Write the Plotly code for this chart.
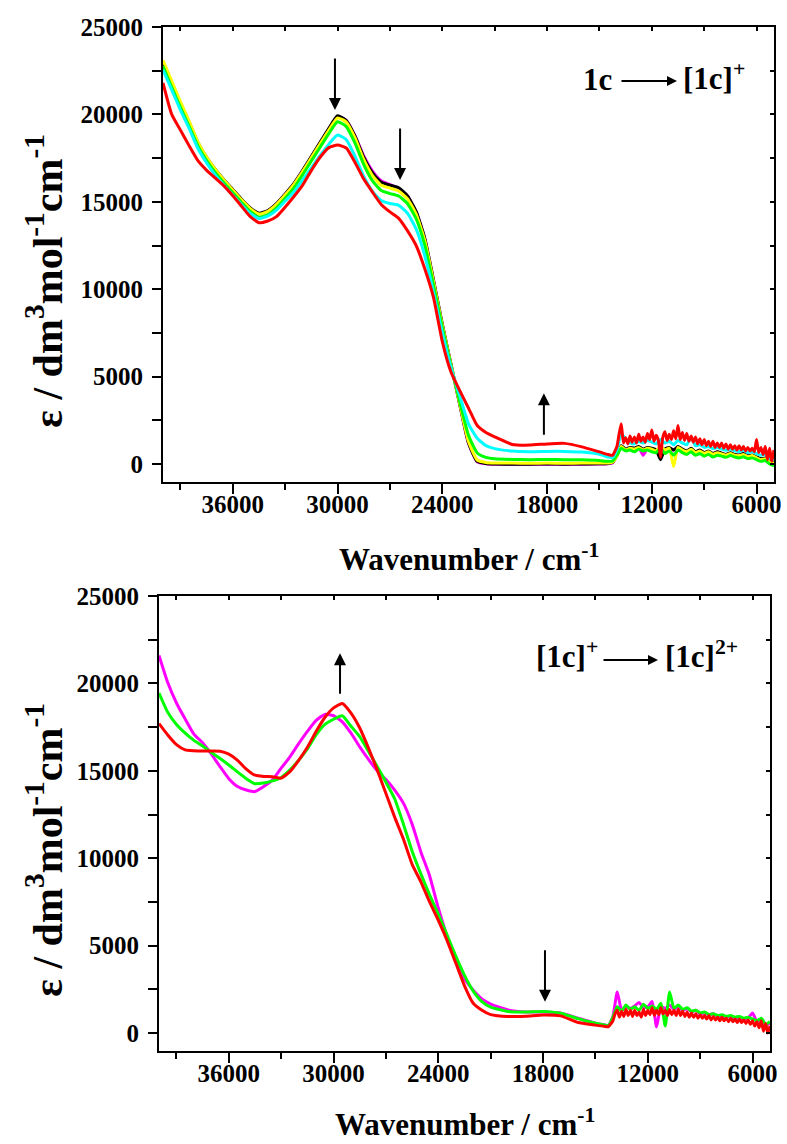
import plotly.graph_objects as go

# ---------------- data ----------------
# wavenumber grid, UV-vis part (cm-1)
WN_UV = [40000, 39500, 39000, 38500, 38000, 37500, 37000, 36500, 36000, 35500,
         35000, 34500, 34000, 33500, 33000, 32500, 32000, 31500, 31000, 30500,
         30000, 29500, 29000, 28500, 28000, 27500, 27000, 26500, 26000, 25500,
         25000, 24500, 24000, 23500, 23000, 22500, 22000, 21500, 21000, 20000,
         19000, 18000, 17000, 16000, 15000, 14500, 14250]
# wavenumber grid, NIR (noisy) part (cm-1)
WN_NIR = [14000, 13750, 13500, 13250, 13000, 12750, 12500, 12250, 12000, 11750,
          11500, 11250, 11000, 10750, 10500, 10250, 10000, 9750, 9500, 9250,
          9000, 8750, 8500, 8250, 8000, 7750, 7500, 7250, 7000, 6750,
          6500, 6250, 6000, 5750, 5500, 5250, 5000]
# finer NIR grid used for the red (front-most, visibly noisy) traces
WN_NIR_FINE = [14000, 13875, 13750, 13625, 13500, 13375, 13250, 13125, 13000, 12875,
               12750, 12625, 12500, 12375, 12250, 12125, 12000, 11875, 11750, 11625,
               11500, 11375, 11250, 11125, 11000, 10875, 10750, 10625, 10500, 10375,
               10250, 10125, 10000, 9875, 9750, 9625, 9500, 9375, 9250, 9125,
               9000, 8875, 8750, 8625, 8500, 8375, 8250, 8125, 8000, 7875,
               7750, 7625, 7500, 7375, 7250, 7125, 7000, 6875, 6750, 6625,
               6500, 6375, 6250, 6125, 6000, 5875, 5750, 5625, 5500, 5375,
               5250, 5125, 5000]

# ---- top panel: 1c -> [1c]+ ----
TOP_BLACK_UV = [23000, 21800, 20650, 19550, 18400, 17550, 16850, 16250, 15700, 15150,
                14650, 14350, 14500, 14900, 15450, 16050, 16800, 17600, 18400, 19200,
                19920, 19650, 18750, 17550, 16650, 16120, 15950, 15800, 15350, 14450,
                12900, 10500, 8000, 5700, 3400, 1200, 150, 30, 0, -10,
                -10, 0, -10, 0, 10, 30, 80]
TOP_BLACK_NIR = [500, 1050, 850, 950, 900, 1000, 850, 950, 900, 800,
                 250, 850, 950, 800, 1000, 850, 750, 900, 700, 800,
                 650, 750, 600, 700, 620, 550, 650, 540, 520, 600,
                 460, 520, 400, 300, 350, 150, 100]

TOP_MAG_UV = [22950, 21750, 20600, 19500, 18350, 17500, 16800, 16200, 15650, 15100,
              14600, 14320, 14480, 14880, 15430, 16030, 16780, 17580, 18380, 19180,
              19880, 19650, 18780, 17620, 16760, 16200, 15980, 15780, 15330, 14420,
              12880, 10480, 7980, 5680, 3380, 1180, 130, 20, -10, -20,
              -20, -10, -20, -10, 0, 20, 60]
TOP_MAG_NIR = [480, 1000, 800, 900, 820, 950, 500, 880, 850, 780,
               900, 820, 900, 780, 950, 800, 720, 860, 680, 780,
               620, 720, 580, 680, 600, 520, 620, 520, 500, 580,
               440, 500, 380, 280, 320, 120, 80]

TOP_YEL_UV = [23100, 21900, 20720, 19600, 18430, 17560, 16850, 16230, 15670, 15110,
              14610, 14300, 14450, 14850, 15400, 16000, 16740, 17530, 18320, 19100,
              19800, 19560, 18650, 17420, 16500, 15950, 15780, 15620, 15180, 14300,
              12780, 10420, 7950, 5680, 3420, 1280, 230, 90, 60, 50,
              40, 50, 40, 50, 50, 60, 100]
TOP_YEL_NIR = [450, 1000, 800, 900, 850, 950, 800, 900, 850, 750,
               1000, 800, 900, -150, 950, 800, 700, 850, 650, 750,
               600, 700, 550, 650, 580, 500, 600, 500, 480, 550,
               420, 480, 350, 250, 300, 100, 50]

TOP_GRN_UV = [22750, 21550, 20400, 19320, 18200, 17360, 16670, 16070, 15520, 14960,
              14450, 14120, 14250, 14650, 15200, 15800, 16550, 17340, 18120, 18900,
              19580, 19300, 18350, 17130, 16200, 15650, 15470, 15330, 14900, 14030,
              12500, 10200, 7800, 5600, 3550, 1650, 630, 380, 300, 260,
              250, 260, 250, 240, 200, 150, 170]
TOP_GRN_NIR = [500, 900, 750, 800, 700, 850, 750, 800, 700, 650,
               900, 600, 750, 500, 800, 650, 550, 700, 500, 600,
               450, 550, 400, 500, 450, 380, 480, 400, 350, 420,
               300, 350, 250, 150, 200, 0, -100]

TOP_CYN_UV = [22550, 21400, 20250, 19180, 18050, 17220, 16520, 15930, 15380, 14830,
              14330, 14050, 14180, 14520, 15050, 15560, 16250, 16950, 17650, 18300,
              18820, 18550, 17600, 16450, 15600, 15070, 14900, 14800, 14350, 13450,
              11900, 9800, 7500, 5500, 3900, 2300, 1470, 1050, 880, 740,
              700, 720, 720, 680, 550, 400, 360]
TOP_CYN_NIR = [800, 1700, 1450, 1200, 1150, 1300, 1200, 1350, 1250, 1150,
               1400, 1200, 1300, 1100, 1350, 1200, 1100, 1550, 1050, 1100,
               950, 1000, 880, 950, 850, 780, 850, 750, 720, 780,
               650, 700, 600, 500, 550, 350, 250]

TOP_RED_UV = [21800, 20000, 19100, 18200, 17350, 16800, 16350, 15900, 15350, 14750,
              14150, 13800, 13900, 14150, 14700, 15300, 15950, 16800, 17550, 18100,
              18250, 18080, 17250, 16300, 15550, 14850, 14420, 14050, 13350, 12500,
              11150, 9500, 7000, 5250, 4200, 3200, 2200, 1800, 1550, 1120,
              1080, 1150, 1180, 980, 690, 540, 500]
TOP_RED_NIR = [1000, 1700, 2300, 1200, 1500, 1150, 1600, 1250, 1550, 1200,
               1700, 1300, 1550, 1250, 1750, 1400, 1950, 1300, 1650, 1350,
               400, 1500, 1850, 1350, 1700, 1400, 1900, 1450, 2200, 1400,
               1800, 1350, 1750, 1300, 1600, 1250, 1550, 1150, 1450, 1100,
               1400, 1050, 1300, 1000, 1300, 950, 1200, 950, 1200, 900,
               1150, 850, 1100, 850, 1050, 800, 1050, 800, 1000, 750,
               950, 750, 900, 700, 1400, 650, 950, 550, 1000, 250,
               900, 150, 800]

# ---- bottom panel: [1c]+ -> [1c]2+ ----
BOT_MAG_UV = [21600, 20050, 18880, 17960, 17100, 16600, 15950, 15230, 14550, 14100,
              13900, 13810, 14100, 14480, 15150, 15800, 16550, 17250, 17880, 18230,
              18150, 17800, 17150, 16370, 15650, 15000, 14500, 13900, 13150, 11950,
              10360, 9000, 7150, 5550, 4300, 3100, 2450, 1950, 1650, 1320,
              1200, 1200, 1150, 850, 560, 470, 440]
BOT_MAG_NIR = [950, 2350, 1300, 1500, 1400, 1550, 1750, 1450, 1500, 1800,
               350, 1500, 1400, 1600, 1350, 1500, 1300, 1400, 1200, 1300,
               1100, 1150, 1050, 1100, 950, 1000, 900, 950, 850, 900,
               800, 850, 1150, 650, 800, 450, 550]

BOT_GRN_UV = [19450, 18350, 17650, 17150, 16740, 16420, 16050, 15700, 15330, 14930,
              14550, 14260, 14300, 14420, 14620, 15050, 15600, 16250, 17050, 17650,
              17950, 18150, 17550, 16950, 16100, 15250, 14350, 13400, 11950, 10400,
              9100, 7900, 6800, 5600, 4400, 3300, 2400, 1800, 1480, 1230,
              1200, 1230, 1130, 820, 560, 460, 420]
BOT_GRN_NIR = [900, 1500, 1250, 1600, 1350, 1500, 1300, 1650, 1400, 1550,
               1350, 1700, 400, 2350, 1400, 1600, 1350, 1450, 1250, 1300,
               1150, 1200, 1050, 1100, 1000, 1050, 950, 1000, 900, 950,
               850, 900, 800, 700, 850, 500, 650]

BOT_RED_UV = [17700, 17050, 16500, 16200, 16150, 16130, 16130, 16120, 15950, 15600,
              15100, 14750, 14680, 14660, 14580, 14950, 15600, 16350, 17250, 18050,
              18600, 18850, 18300, 17450, 16300, 15050, 13700, 12350, 11100, 9650,
              8650, 7500, 6450, 5300, 4000, 2700, 1700, 1300, 1050, 940,
              960, 1030, 980, 600, 450, 380, 360]
BOT_RED_NIR = [700, 1100, 1300, 900, 1250, 950, 1350, 1000, 1300, 950,
               1300, 1000, 1200, 900, 1350, 1000, 1300, 1050, 1450, 1000,
               1300, 1050, 1450, 1100, 1300, 1000, 1350, 1050, 1300, 1000,
               1350, 1000, 1250, 950, 1200, 900, 1150, 900, 1100, 850,
               1050, 850, 1000, 800, 1000, 750, 950, 750, 900, 700,
               900, 700, 850, 650, 850, 650, 800, 600, 800, 600,
               750, 550, 750, 500, 700, 400, 650, 300, 700, 100,
               550, 0, 400]

TOP_SERIES = [("#FF00FF", WN_NIR, TOP_MAG_UV, TOP_MAG_NIR),
              ("#000000", WN_NIR, TOP_BLACK_UV, TOP_BLACK_NIR),
              ("#FFFF00", WN_NIR, TOP_YEL_UV, TOP_YEL_NIR),
              ("#00FF00", WN_NIR, TOP_GRN_UV, TOP_GRN_NIR),
              ("#00FFFF", WN_NIR, TOP_CYN_UV, TOP_CYN_NIR),
              ("#FF0000", WN_NIR_FINE, TOP_RED_UV, TOP_RED_NIR)]
BOT_SERIES = [("#FF00FF", WN_NIR, BOT_MAG_UV, BOT_MAG_NIR),
              ("#00FF00", WN_NIR, BOT_GRN_UV, BOT_GRN_NIR),
              ("#FF0000", WN_NIR_FINE, BOT_RED_UV, BOT_RED_NIR)]

X_TICKS = [36000, 30000, 24000, 18000, 12000, 6000]
Y_TICKS = [0, 5000, 10000, 15000, 20000, 25000]

# ---------------- figure ----------------
W, H = 787, 1144
FONT = "Liberation Serif"

fig = go.Figure()
for color, wn_nir, uv, nir in TOP_SERIES:
    fig.add_trace(go.Scatter(x=WN_UV + wn_nir, y=uv + nir, mode="lines",
                             line=dict(color=color, width=3, shape="spline", smoothing=0.5),
                             xaxis="x", yaxis="y", showlegend=False))
for color, wn_nir, uv, nir in BOT_SERIES:
    fig.add_trace(go.Scatter(x=WN_UV + wn_nir, y=uv + nir, mode="lines",
                             line=dict(color=color, width=3, shape="spline", smoothing=0.5),
                             xaxis="x2", yaxis="y2", showlegend=False))


def px(x):
    return x / W


def py(y):
    return 1 - y / H


XR = [40000, 5000]
YR = [-1030, 25000]

common_x = dict(range=XR, autorange=False, automargin=False, showgrid=False, zeroline=False,
                showline=True, linewidth=2, linecolor="black", mirror=True,
                ticks="outside", ticklen=10, tickwidth=2, tickcolor="black",
                tickvals=X_TICKS, ticktext=[str(v) for v in X_TICKS],
                minor=dict(dtick=3000, tick0=0, ticks="outside", ticklen=6,
                           tickwidth=2, tickcolor="black"),
                ticklabelstandoff=-11,
                tickfont=dict(family=FONT, size=25, color="black", weight="bold"))
common_y = dict(range=YR, autorange=False, automargin=False, showgrid=False, zeroline=False,
                showline=True, linewidth=2, linecolor="black", mirror=True,
                ticks="outside", ticklen=9, tickwidth=2, tickcolor="black",
                tickvals=Y_TICKS, ticktext=[str(v) for v in Y_TICKS],
                minor=dict(dtick=2500, tick0=0, ticks="outside", ticklen=9,
                           tickwidth=2, tickcolor="black"),
                ticklabelstandoff=4,
                tickfont=dict(family=FONT, size=25, color="black", weight="bold"))

top_x_dom = [px(163), px(774)]
top_y_dom = [py(482), py(27)]
bot_x_dom = [px(159), px(770)]
bot_y_dom = [py(1051), py(596)]

mirror_x = dict(range=XR, autorange=False, automargin=False, showgrid=False, zeroline=False,
                showline=False, side="top", ticks="inside", ticklen=4, tickwidth=1.5,
                tickcolor="black", dtick=3000, tick0=0, showticklabels=False)
mirror_y = dict(range=YR, autorange=False, automargin=False, showgrid=False, zeroline=False,
                showline=False, side="right", ticks="inside", ticklen=4, tickwidth=1.5,
                tickcolor="black", dtick=2500, tick0=0, showticklabels=False)

fig.update_layout(
    width=W, height=H, margin=dict(l=0, r=0, t=0, b=0, autoexpand=False),
    paper_bgcolor="white", plot_bgcolor="white", showlegend=False,
    xaxis=dict(domain=top_x_dom, anchor="y", **common_x),
    yaxis=dict(domain=top_y_dom, anchor="x", **common_y),
    xaxis2=dict(domain=bot_x_dom, anchor="y2", **common_x),
    yaxis2=dict(domain=bot_y_dom, anchor="x2", **common_y),
    xaxis3=dict(overlaying="x", anchor="y", **mirror_x),
    yaxis3=dict(overlaying="y", anchor="x", **mirror_y),
    xaxis4=dict(overlaying="x2", anchor="y2", **mirror_x),
    yaxis4=dict(overlaying="y2", anchor="x2", **mirror_y),
)
# empty traces so the mirrored tick axes are drawn
fig.add_trace(go.Scatter(x=[], y=[], xaxis="x3", yaxis="y3", showlegend=False, hoverinfo="skip"))
fig.add_trace(go.Scatter(x=[], y=[], xaxis="x4", yaxis="y4", showlegend=False, hoverinfo="skip"))

tfont = dict(family=FONT, size=31, color="black", weight="bold")
ann = []
# axis titles
for xc, yc in [(468.5, 558), (464.5, 1122)]:
    ann.append(dict(text="Wavenumber / cm<sup>-1</sup>", x=px(xc), y=py(yc), xref="paper", yref="paper",
                    xanchor="center", yanchor="middle", showarrow=False, font=tfont))
for xc, yc in [(44, 281), (44, 850)]:
    ann.append(dict(text="ε / dm<sup>3</sup>mol<sup>-1</sup>cm<sup>-1</sup>", x=px(xc), y=py(yc),
                    xref="paper", yref="paper", textangle=-90,
                    xanchor="center", yanchor="middle", showarrow=False,
                    font=dict(family=FONT, size=42, color="black", weight="bold")))
# reaction labels
lfont = dict(family=FONT, size=31, color="black", weight="bold")
ann.append(dict(text="1c", x=px(597), y=py(80), xref="paper", yref="paper",
                xanchor="center", yanchor="middle", showarrow=False, font=lfont))
ann.append(dict(text="[1c]<sup>+</sup>", x=px(681), y=py(76), xref="paper", yref="paper",
                xanchor="left", yanchor="middle", showarrow=False, font=lfont))
ann.append(dict(text="", x=px(677), y=py(81), xref="paper", yref="paper", ax=-57, ay=0,
                showarrow=True, arrowhead=2, arrowsize=1, arrowwidth=2, arrowcolor="black"))
ann.append(dict(text="[1c]<sup>+</sup>", x=px(600), y=py(654), xref="paper", yref="paper",
                xanchor="right", yanchor="middle", showarrow=False, font=lfont))
ann.append(dict(text="[1c]<sup>2+</sup>", x=px(663), y=py(654), xref="paper", yref="paper",
                xanchor="left", yanchor="middle", showarrow=False, font=lfont))
ann.append(dict(text="", x=px(658), y=py(660), xref="paper", yref="paper", ax=-56, ay=0,
                showarrow=True, arrowhead=2, arrowsize=1, arrowwidth=2, arrowcolor="black"))
# change arrows (data coordinates)
for xr, yr, xv, yv, ayv in [("x", "y", 30150, 20250, -53),
                            ("x", "y", 26420, 16250, -53),
                            ("x", "y", 18180, 4050, 43),
                            ("x2", "y2", 29630, 21720, 42),
                            ("x2", "y2", 17890, 1790, -53)]:
    ann.append(dict(text="", x=xv, y=yv, xref=xr, yref=yr, ax=0, ay=ayv,
                    showarrow=True, arrowhead=2, arrowsize=1.2, arrowwidth=2, arrowcolor="black"))

fig.update_layout(annotations=ann)
fig.write_html("out.html")
